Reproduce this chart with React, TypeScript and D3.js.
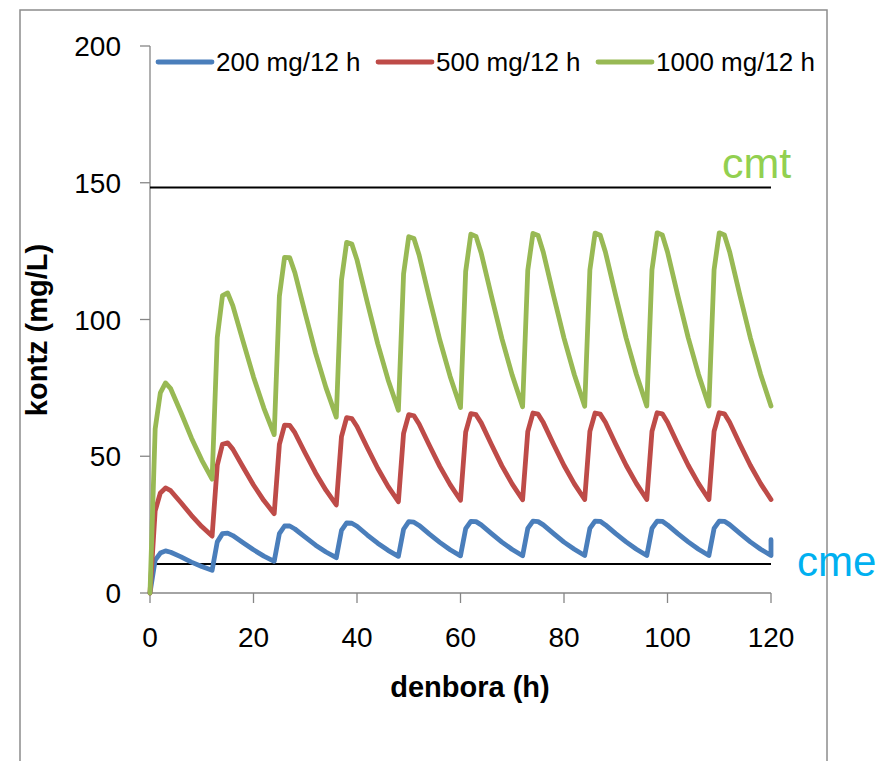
import React from "react";
import * as d3 from "d3";

const hours = [
  0, 1, 2, 3, 4, 6, 8, 10,
  12, 13, 14, 15, 16, 18, 20, 22,
  24, 25, 26, 27, 28, 30, 32, 34,
  36, 37, 38, 39, 40, 42, 44, 46,
  48, 49, 50, 51, 52, 54, 56, 58,
  60, 61, 62, 63, 64, 66, 68, 70,
  72, 73, 74, 75, 76, 78, 80, 82,
  84, 85, 86, 87, 88, 90, 92, 94,
  96, 97, 98, 99, 100, 102, 104, 106,
  108, 109, 110, 111, 112, 114, 116, 118,
  120, 120,
];

const dose200 = [
  0, 12.0, 14.6, 15.4, 14.9, 13.2, 11.3, 9.7,
  8.3, 18.7, 21.7, 21.9, 21.0, 18.4, 15.8, 13.5,
  11.6, 21.7, 24.5, 24.5, 23.4, 20.4, 17.5, 15.0,
  12.9, 22.9, 25.6, 25.5, 24.4, 21.2, 18.2, 15.6,
  13.4, 23.3, 26.1, 25.9, 24.7, 21.5, 18.5, 15.8,
  13.6, 23.5, 26.2, 26.1, 24.9, 21.7, 18.6, 15.9,
  13.6, 23.6, 26.3, 26.1, 24.9, 21.7, 18.6, 16.0,
  13.7, 23.6, 26.3, 26.2, 24.9, 21.7, 18.7, 16.0,
  13.7, 23.6, 26.3, 26.2, 24.9, 21.7, 18.7, 16.0,
  13.7, 23.6, 26.3, 26.2, 25.0, 21.8, 18.7, 16.0,
  13.7, 19.5,
];

const dose500 = [
  0, 30.0, 36.6, 38.4, 37.4, 33.0, 28.4, 24.3,
  20.8, 46.7, 54.4, 54.9, 52.6, 46.0, 39.5, 33.8,
  29.0, 54.3, 61.4, 61.3, 58.6, 51.1, 43.9, 37.6,
  32.2, 57.2, 64.1, 63.8, 60.9, 53.1, 45.6, 39.0,
  33.4, 58.4, 65.2, 64.8, 61.8, 53.9, 46.3, 39.6,
  33.9, 58.8, 65.6, 65.2, 62.2, 54.2, 46.5, 39.8,
  34.1, 59.0, 65.8, 65.4, 62.3, 54.3, 46.6, 39.9,
  34.2, 59.1, 65.8, 65.4, 62.4, 54.4, 46.7, 40.0,
  34.2, 59.1, 65.9, 65.5, 62.4, 54.4, 46.7, 40.0,
  34.2, 59.1, 65.9, 65.5, 62.4, 54.4, 46.7, 40.0,
  34.2, 34.2,
];

const dose1000 = [
  0, 60.0, 73.2, 76.8, 74.7, 65.9, 56.7, 48.6,
  41.6, 93.4, 108.7, 109.7, 105.1, 91.9, 79.0, 67.6,
  57.9, 108.5, 122.7, 122.6, 117.1, 102.2, 87.7, 75.1,
  64.3, 114.4, 128.2, 127.6, 121.8, 106.2, 91.2, 78.0,
  66.8, 116.7, 130.3, 129.6, 123.6, 107.7, 92.5, 79.2,
  67.8, 117.6, 131.2, 130.4, 124.3, 108.4, 93.0, 79.6,
  68.1, 118.0, 131.5, 130.7, 124.6, 108.6, 93.2, 79.8,
  68.3, 118.1, 131.6, 130.8, 124.7, 108.7, 93.3, 79.9,
  68.4, 118.2, 131.7, 130.9, 124.7, 108.7, 93.4, 79.9,
  68.4, 118.2, 131.7, 130.9, 124.8, 108.8, 93.4, 79.9,
  68.4, 68.4,
];

const seriesNames = ["200 mg/12 h", "500 mg/12 h", "1000 mg/12 h"];
const seriesColors = ["#4A7EBB", "#BE4B48", "#98B954"];

const cmtHours = [0, 120];
const cmtValues = [148.3, 148.3];
const cmeHours = [1, 120];
const cmeValues = [10.6, 10.6];

const yTicks = [0, 50, 100, 150, 200];
const xTicks = [0, 20, 40, 60, 80, 100, 120];

const FONT = "'Liberation Sans', Arial, Helvetica, sans-serif";

export default function App() {
  const x = d3.scaleLinear().domain([0, 120]).range([150, 771]);
  const y = d3.scaleLinear().domain([0, 200]).range([593, 46]);
  const line = d3
    .line<[number, number]>()
    .x((d) => x(d[0]))
    .y((d) => y(d[1]));

  const series = [dose200, dose500, dose1000];
  const legendX = [158, 378, 598];

  return (
    <svg
      width={881}
      height={761}
      style={{ position: "absolute", left: 0, top: 0, background: "#fff" }}
    >
      <rect x={0} y={0} width={881} height={761} fill="#fff" />
      <rect x={20} y={10} width={807} height={800} fill="none" stroke="#8c8c8c" strokeWidth={1.5} />

      {/* axes */}
      <line x1={x(0)} x2={x(0)} y1={y(200)} y2={y(0)} stroke="#868686" strokeWidth={1.3} />
      <line x1={x(0)} x2={x(120)} y1={y(0)} y2={y(0)} stroke="#868686" strokeWidth={1.3} />
      {yTicks.map((t) => (
        <g key={"y" + t}>
          <line x1={x(0) - 10} x2={x(0)} y1={y(t)} y2={y(t)} stroke="#868686" strokeWidth={1.3} />
          <text x={121} y={y(t) + 10} textAnchor="end" fontFamily={FONT} fontSize={28} fill="#000">
            {t}
          </text>
        </g>
      ))}
      {xTicks.map((t) => (
        <g key={"x" + t}>
          <line x1={x(t)} x2={x(t)} y1={y(0)} y2={y(0) + 10} stroke="#868686" strokeWidth={1.3} />
          <text x={x(t)} y={647} textAnchor="middle" fontFamily={FONT} fontSize={28} fill="#000">
            {t}
          </text>
        </g>
      ))}

      {/* threshold lines */}
      <path
        d={line(cmtHours.map((h, i) => [h, cmtValues[i]] as [number, number])) || ""}
        stroke="#000"
        strokeWidth={2}
        fill="none"
      />
      <path
        d={line(cmeHours.map((h, i) => [h, cmeValues[i]] as [number, number])) || ""}
        stroke="#000"
        strokeWidth={2}
        fill="none"
      />

      {/* series */}
      {series.map((vals, si) => (
        <path
          key={si}
          d={line(hours.map((h, i) => [h, vals[i]] as [number, number])) || ""}
          fill="none"
          stroke={seriesColors[si]}
          strokeWidth={4.8}
          strokeLinejoin="round"
          strokeLinecap="round"
        />
      ))}

      {/* legend */}
      {seriesNames.map((n, i) => (
        <g key={n}>
          <line
            x1={legendX[i]}
            x2={legendX[i] + 54}
            y1={62}
            y2={62}
            stroke={seriesColors[i]}
            strokeWidth={4.8}
            strokeLinecap="round"
          />
          <text x={legendX[i] + 58} y={71} fontFamily={FONT} fontSize={26} fill="#000">
            {n}
          </text>
        </g>
      ))}

      {/* labels */}
      <text x={722} y={178} fontFamily={FONT} fontSize={43} fill="#92D050">
        cmt
      </text>
      <text x={797} y={576} fontFamily={FONT} fontSize={42} fill="#00B0F0">
        cme
      </text>

      <text
        transform="translate(47,330) rotate(-90)"
        textAnchor="middle"
        fontFamily={FONT}
        fontWeight="bold"
        fontSize={29}
        fill="#000"
      >
        kontz (mg/L)
      </text>
      <text x={470} y={697} textAnchor="middle" fontFamily={FONT} fontWeight="bold" fontSize={29} fill="#000">
        denbora (h)
      </text>
    </svg>
  );
}
